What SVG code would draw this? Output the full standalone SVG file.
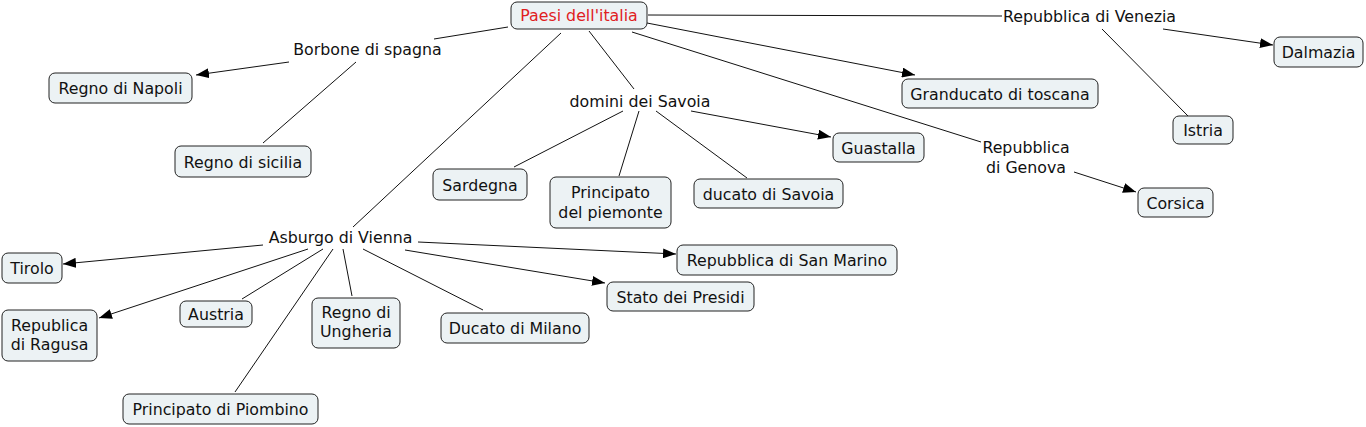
<svg xmlns="http://www.w3.org/2000/svg" width="1366" height="427" viewBox="0 0 1366 427">
<style>
.n rect{fill:#ecf2f4;stroke:#222;stroke-width:1}
text{font-family:"DejaVu Sans","Liberation Sans",sans-serif;font-size:15.8px;fill:#111;text-anchor:middle}
.root text{fill:#e0201e}
#conn line{stroke:#111;stroke-width:1;fill:none}
#conn line.a{marker-end:url(#ah)}
</style>
<defs>
<marker id="ah" markerUnits="userSpaceOnUse" markerWidth="13" markerHeight="10" refX="13" refY="5" orient="auto">
<path d="M0,0 L13,5 L0,10 z" fill="#000"/>
</marker>
</defs>
<rect width="1366" height="427" fill="#fff"/>
<g id="conn">
<line x1="508" y1="27" x2="434" y2="39"/>
<line class="a" x1="289" y1="62" x2="196" y2="75"/>
<line x1="356" y1="62" x2="263" y2="143"/>
<line x1="589" y1="31" x2="634" y2="89"/>
<line x1="623" y1="111" x2="514" y2="167"/>
<line x1="639" y1="111" x2="619" y2="176"/>
<line x1="656" y1="111" x2="747" y2="178"/>
<line class="a" x1="691" y1="111" x2="831" y2="137"/>
<line x1="561" y1="33" x2="353" y2="227"/>
<line class="a" x1="647" y1="23" x2="915" y2="75"/>
<line x1="648" y1="15" x2="1002" y2="16"/>
<line class="a" x1="1163" y1="29" x2="1273" y2="45"/>
<line x1="1102" y1="29" x2="1188" y2="116"/>
<line x1="632" y1="32" x2="981" y2="142"/>
<line class="a" x1="1074" y1="172" x2="1136" y2="192"/>
<line class="a" x1="263" y1="245" x2="63" y2="264"/>
<line class="a" x1="308" y1="249" x2="99" y2="318"/>
<line x1="323" y1="249" x2="242" y2="299"/>
<line x1="343" y1="249" x2="352" y2="296"/>
<line x1="333" y1="249" x2="235" y2="392"/>
<line x1="363" y1="249" x2="483" y2="310"/>
<line class="a" x1="418" y1="242" x2="676" y2="254"/>
<line class="a" x1="405" y1="250" x2="605" y2="283"/>
</g>
<g id="paesi" class="n root"><rect x="511" y="2" width="136" height="27" rx="6"/><text x="579" y="21">Paesi dell'italia</text></g>
<g id="borbone"><text x="367.5" y="55">Borbone di spagna</text></g>
<g id="napoli" class="n"><rect x="49" y="73" width="143" height="30" rx="6"/><text x="120.5" y="94">Regno di Napoli</text></g>
<g id="sicilia" class="n"><rect x="175" y="146" width="136" height="31" rx="6"/><text x="243" y="167.5">Regno di sicilia</text></g>
<g id="savoia"><text x="640" y="106.5">domini dei Savoia</text></g>
<g id="sardegna" class="n"><rect x="433" y="169" width="94" height="31" rx="6"/><text x="480" y="190.5">Sardegna</text></g>
<g id="piemonte" class="n"><rect x="550" y="177" width="121" height="51" rx="6"/><text x="610.5" y="198">Principato</text><text x="610.5" y="217.5">del piemonte</text></g>
<g id="ducatosavoia" class="n"><rect x="694" y="179" width="149" height="29" rx="6"/><text x="768.5" y="199.5">ducato di Savoia</text></g>
<g id="guastalla" class="n"><rect x="833" y="133" width="91" height="29" rx="6"/><text x="878.5" y="153.5">Guastalla</text></g>
<g id="toscana" class="n"><rect x="902" y="79" width="196" height="29" rx="6"/><text x="1000" y="99.5">Granducato di toscana</text></g>
<g id="venezia"><text x="1089.5" y="22">Repubblica di Venezia</text></g>
<g id="dalmazia" class="n"><rect x="1274" y="37" width="89" height="30" rx="6"/><text x="1318.5" y="58">Dalmazia</text></g>
<g id="istria" class="n"><rect x="1173" y="116" width="60" height="28" rx="6"/><text x="1203" y="136">Istria</text></g>
<g id="genova"><text x="1026" y="153">Repubblica</text><text x="1026" y="173">di Genova</text></g>
<g id="corsica" class="n"><rect x="1138" y="188" width="75" height="29" rx="6"/><text x="1175.5" y="208.5">Corsica</text></g>
<g id="asburgo"><text x="340.5" y="243">Asburgo di Vienna</text></g>
<g id="tirolo" class="n"><rect x="2" y="253" width="60" height="30" rx="6"/><text x="32" y="274">Tirolo</text></g>
<g id="ragusa" class="n"><rect x="2" y="310" width="95" height="51" rx="6"/><text x="49.5" y="331">Republica</text><text x="49.5" y="350">di Ragusa</text></g>
<g id="austria" class="n"><rect x="180" y="301" width="72" height="26" rx="6"/><text x="216" y="320">Austria</text></g>
<g id="ungheria" class="n"><rect x="312" y="298" width="88" height="50" rx="6"/><text x="356" y="318">Regno di</text><text x="356" y="337">Ungheria</text></g>
<g id="piombino" class="n"><rect x="123" y="394" width="195" height="30" rx="6"/><text x="220.5" y="415">Principato di Piombino</text></g>
<g id="milano" class="n"><rect x="441" y="313" width="148" height="30" rx="6"/><text x="515" y="334">Ducato di Milano</text></g>
<g id="sanmarino" class="n"><rect x="677" y="245" width="220" height="30" rx="6"/><text x="787" y="266">Repubblica di San Marino</text></g>
<g id="presidi" class="n"><rect x="607" y="282" width="147" height="29" rx="6"/><text x="680.5" y="302.5">Stato dei Presidi</text></g>
</svg>
